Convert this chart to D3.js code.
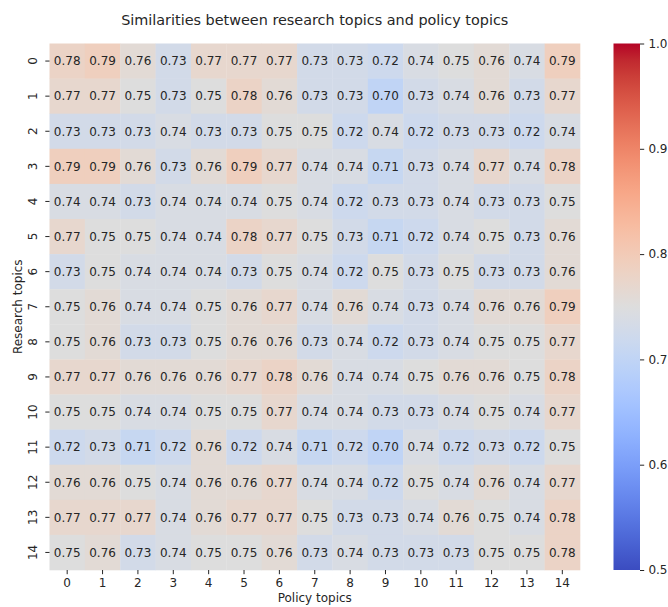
<!DOCTYPE html>
<html><head><meta charset="utf-8">
<script src="https://cdn.jsdelivr.net/npm/d3@7"></script>
<style>body{margin:0;background:#fff;}svg{display:block;font-family:"DejaVu Sans",sans-serif;}</style>
</head><body>
<svg id="c" width="668" height="607"></svg>
<script>
const researchTopics = d3.range(15).map(String);
const policyTopics = d3.range(15).map(String);
const values = [
[0.78,0.79,0.76,0.73,0.77,0.77,0.77,0.73,0.73,0.72,0.74,0.75,0.76,0.74,0.79],
[0.77,0.77,0.75,0.73,0.75,0.78,0.76,0.73,0.73,0.70,0.73,0.74,0.76,0.73,0.77],
[0.73,0.73,0.73,0.74,0.73,0.73,0.75,0.75,0.72,0.74,0.72,0.73,0.73,0.72,0.74],
[0.79,0.79,0.76,0.73,0.76,0.79,0.77,0.74,0.74,0.71,0.73,0.74,0.77,0.74,0.78],
[0.74,0.74,0.73,0.74,0.74,0.74,0.75,0.74,0.72,0.73,0.73,0.74,0.73,0.73,0.75],
[0.77,0.75,0.75,0.74,0.74,0.78,0.77,0.75,0.73,0.71,0.72,0.74,0.75,0.73,0.76],
[0.73,0.75,0.74,0.74,0.74,0.73,0.75,0.74,0.72,0.75,0.73,0.75,0.73,0.73,0.76],
[0.75,0.76,0.74,0.74,0.75,0.76,0.77,0.74,0.76,0.74,0.73,0.74,0.76,0.76,0.79],
[0.75,0.76,0.73,0.73,0.75,0.76,0.76,0.73,0.74,0.72,0.73,0.74,0.75,0.75,0.77],
[0.77,0.77,0.76,0.76,0.76,0.77,0.78,0.76,0.74,0.74,0.75,0.76,0.76,0.75,0.78],
[0.75,0.75,0.74,0.74,0.75,0.75,0.77,0.74,0.74,0.73,0.73,0.74,0.75,0.74,0.77],
[0.72,0.73,0.71,0.72,0.76,0.72,0.74,0.71,0.72,0.70,0.74,0.72,0.73,0.72,0.75],
[0.76,0.76,0.75,0.74,0.76,0.76,0.77,0.74,0.74,0.72,0.75,0.74,0.76,0.74,0.77],
[0.77,0.77,0.77,0.74,0.76,0.77,0.77,0.75,0.73,0.73,0.74,0.76,0.75,0.74,0.78],
[0.75,0.76,0.73,0.74,0.75,0.75,0.76,0.73,0.74,0.73,0.73,0.73,0.75,0.75,0.78]
];
const colorbarTicks = [0.5,0.6,0.7,0.8,0.9,1.0];
const titleText = "Similarities between research topics and policy topics";
const xLabel = "Policy topics";
const yLabel = "Research topics";

// matplotlib coolwarm control colours
const coolwarmStops = [
[59,76,192],[68,90,204],[77,104,215],[87,117,225],[98,130,234],[108,142,241],[119,154,247],[130,165,251],
[141,176,254],[152,185,255],[163,194,255],[174,201,253],[184,208,249],[194,213,244],[204,217,238],[213,219,230],
[221,221,221],[229,216,209],[236,211,197],[241,204,185],[245,196,173],[247,187,160],[247,177,148],[247,166,135],
[244,154,123],[241,141,111],[236,127,99],[229,112,88],[222,96,77],[213,80,66],[203,62,56],[192,40,47],[180,4,38]
].map(c=>d3.rgb(c[0],c[1],c[2]).toString());
const coolwarm = d3.scaleLinear().domain(coolwarmStops.map((_,i)=>i/(coolwarmStops.length-1))).range(coolwarmStops).interpolate(d3.interpolateRgb).clamp(true);
const color = v => coolwarm((v-0.5)/0.5);

const FS = 12, TK = 4.2, PAD = 4.2;
const svg = d3.select("#c");
const L=49.5,R=580,T=43.5,B=570;
const x = d3.scaleBand().domain(policyTopics).range([L,R]);
const y = d3.scaleBand().domain(researchTopics).range([T,B]);

const g = svg.append("g");
values.forEach((row,i)=>{
  row.forEach((v,j)=>{
    g.append("rect").attr("x",x(policyTopics[j])).attr("y",y(researchTopics[i]))
      .attr("width",x.bandwidth()+0.3).attr("height",y.bandwidth()+0.3).attr("fill",color(v));
    g.append("text").attr("x",x(policyTopics[j])+x.bandwidth()/2).attr("y",y(researchTopics[i])+y.bandwidth()/2)
      .attr("dy","0.36em").attr("text-anchor","middle").attr("font-size",FS+"px").attr("fill","#262626")
      .text(v.toFixed(2));
  });
});

// axes
const xa = svg.append("g").attr("transform",`translate(0,${B})`).call(d3.axisBottom(x).tickSize(TK).tickPadding(PAD));
xa.select(".domain").remove();
xa.selectAll("text").attr("font-size",FS+"px").attr("fill","#262626").attr("font-family","DejaVu Sans");
xa.selectAll("line").attr("stroke","#262626");
const ya = svg.append("g").attr("transform",`translate(${L},0)`).call(d3.axisLeft(y).tickSize(TK).tickPadding(PAD));
ya.select(".domain").remove();
ya.selectAll("line").attr("stroke","#262626");
ya.selectAll("text").attr("font-size",FS+"px").attr("fill","#262626").attr("font-family","DejaVu Sans")
  .attr("text-anchor","middle").attr("x",null)
  .attr("transform","translate(-17,0) rotate(-90)").attr("dy","0.36em");

svg.append("text").attr("x",(L+R)/2).attr("y",25).attr("text-anchor","middle").attr("font-size","14.4px").attr("fill","#262626").text(titleText);
svg.append("text").attr("x",(L+R)/2).attr("y",602).attr("text-anchor","middle").attr("font-size",FS+"px").attr("fill","#262626").text(xLabel);
svg.append("text").attr("transform",`translate(21.5,${(T+B)/2}) rotate(-90)`).attr("text-anchor","middle").attr("font-size",FS+"px").attr("fill","#262626").text(yLabel);

// colorbar
const cbL=613.5, cbW=26.5;
const cy = d3.scaleLinear().domain([0.5,1.0]).range([B,T]);
const defs = svg.append("defs");
const grad = defs.append("linearGradient").attr("id","cb").attr("x1",0).attr("y1",1).attr("x2",0).attr("y2",0);
coolwarmStops.forEach((c,i)=>grad.append("stop").attr("offset",i/(coolwarmStops.length-1)).attr("stop-color",c));
svg.append("rect").attr("x",cbL).attr("y",T).attr("width",cbW).attr("height",B-T).attr("fill","url(#cb)");
const ca = svg.append("g").attr("transform",`translate(${cbL+cbW},0)`).call(d3.axisRight(cy).tickValues(colorbarTicks).tickFormat(d3.format(".1f")).tickSize(TK).tickPadding(PAD));
ca.select(".domain").remove();
ca.selectAll("line").attr("stroke","#262626");
ca.selectAll("text").attr("font-size",FS+"px").attr("fill","#262626").attr("font-family","DejaVu Sans");
</script>
</body></html>
